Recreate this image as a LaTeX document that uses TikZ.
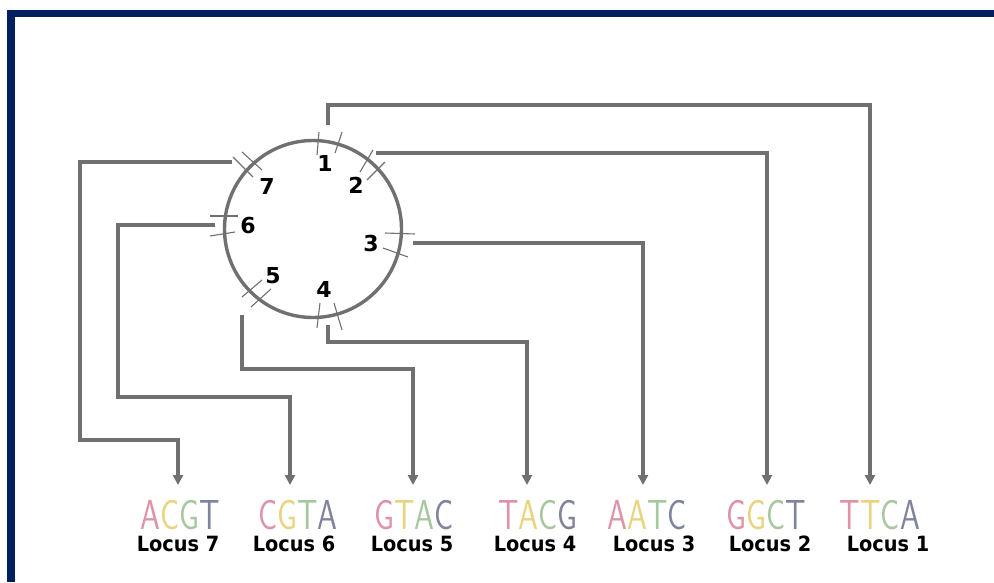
\documentclass[tikz,border=0pt]{standalone}
\usepackage{fontspec}
\usepackage{tikz}
\newfontfamily\labelfont{DejaVu Sans}
\definecolor{frameNavy}{RGB}{0,32,96}
\definecolor{wireGray}{RGB}{112,112,112}
\definecolor{logoPink}{RGB}{214,120,145}
\definecolor{logoGold}{RGB}{226,200,95}
\definecolor{logoGreen}{RGB}{145,185,135}
\definecolor{logoSlate}{RGB}{95,100,130}
\usetikzlibrary{arrows.meta,positioning}

\newcommand{\logoword}[4]{\scalebox{0.76}[1]{\textcolor{logoPink}{#1}\textcolor{logoGold}{#2}\textcolor{logoGreen}{#3}\textcolor{logoSlate}{#4}}}
\newcommand{\squeezed}[1]{\scalebox{0.92}[1]{#1}}

\begin{document}
\begin{tikzpicture}[
  x=1pt,
  y=-1pt,
  >={Triangle[width=10pt,length=10pt]},
  ring/.style={circle, draw=wireGray, line width=3.4pt, minimum size=177pt, inner sep=0pt},
  wire/.style={->, draw=wireGray, line width=3.4pt},
  tick/.style={draw=wireGray, line width=1.1pt},
  num/.style={font=\labelfont\bfseries\fontsize{22}{22}\selectfont, inner sep=0pt},
  locus/.style={font=\labelfont\bfseries\fontsize{21}{21}\selectfont, inner sep=0pt},
  logo/.style={font=\sffamily\fontsize{42}{42}\selectfont, inner sep=0pt, opacity=0.8}
]
\useasboundingbox (0,0) rectangle (994,582);
\fill[frameNavy] (7,10) rectangle (994,17);
\fill[frameNavy] (7,10) rectangle (15,582);

\node[ring] (ring) at (313,229) {};

% tick pairs where each locus sits on the ring
\foreach \ax/\ay/\bx/\by in {319/132/317/155, 342/132/335/153,
    373/150/360/172, 385/162/367/180, 385/233/415/234, 383/248/408/257,
    320/303/317/328, 334/303/342/330, 262/280/242/297, 271/289/251/307,
    210/216/238/216, 210/236/235/232, 233/157/253/177, 242/152/262/170}
  \draw[tick] (\ax,\ay) -- (\bx,\by);

\node[num] (n1) at (325,163) {1};
\node[num] (n2) at (356,185) {2};
\node[num] (n3) at (371,243) {3};
\node[num] (n4) at (324,289) {4};
\node[num] (n5) at (273,276) {5};
\node[num] (n6) at (248,225) {6};
\node[num] (n7) at (267,186) {7};

\coordinate (p1) at (328,125);
\coordinate (p2) at (376,153);
\coordinate (p3) at (413,243);
\coordinate (p4) at (328,325);
\coordinate (p5) at (242,315);
\coordinate (p6) at (215,225);
\coordinate (p7) at (232,162);

% loci along the bottom
\foreach \k/\seq/\ax/\gx/\lx in {7/ACGT/178/180/178, 6/CGTA/290/298/294,
    5/GTAC/413/414/412, 4/TACG/527/538/535, 3/AATC/643/647/654,
    2/GGCT/767/766/770, 1/TTCA/870/880/888} {
  \coordinate (t\k) at (\ax,485);
  \node[logo] (g\k) at (\gx,515) {\expandafter\logoword\seq};
  \node[locus] (l\k) at (\lx,544) {\squeezed{Locus \k}};
}

\draw[wire] (p1) -- ++(0,-20) -| (t1);
\draw[wire] (p2) -| (t2);
\draw[wire] (p3) -| (t3);
\draw[wire] (p4) -- ++(0,17) -| (t4);
\draw[wire] (p5) -- ++(0,54) -| (t5);
\draw[wire] (p6) -- ++(-97,0) -- ++(0,172) -| (t6);
\draw[wire] (p7) -- ++(-152,0) -- ++(0,278) -| (t7);
\end{tikzpicture}
\end{document}
